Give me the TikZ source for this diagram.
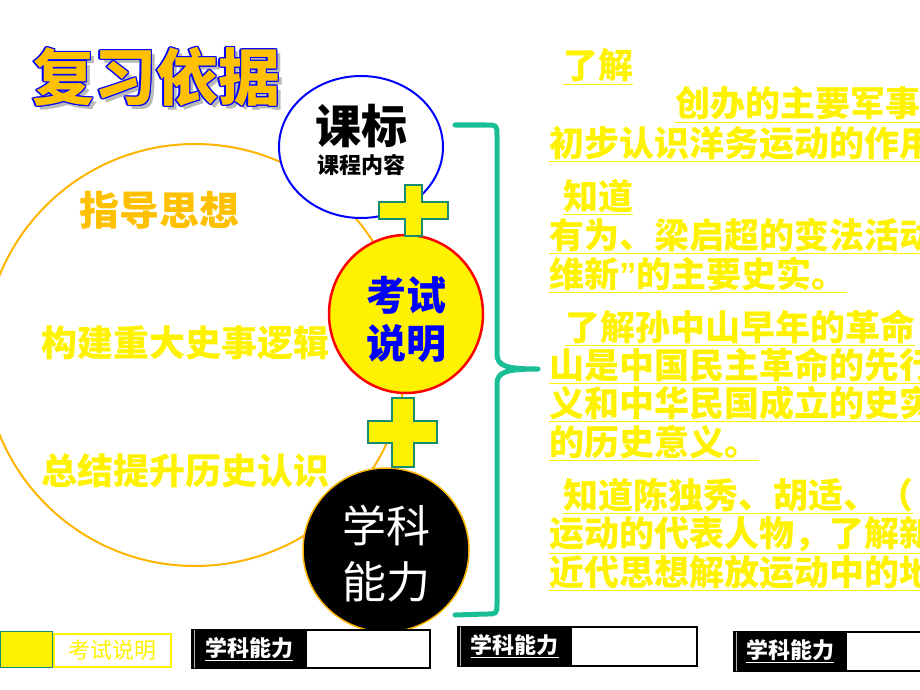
\documentclass[tikz,border=0pt]{standalone}
\usepackage{fontspec}
\newfontfamily\cjk{Noto Sans CJK SC}
\newfontfamily\latn{Liberation Sans}
\usetikzlibrary{shapes.geometric}
\definecolor{titleorange}{RGB}{255,192,0}
\definecolor{ringorange}{RGB}{255,180,0}
\definecolor{bracegreen}{RGB}{26,190,150}
\definecolor{crossedge}{RGB}{24,140,110}
\tikzset{
        titlefont/.style={font=\cjk\bfseries\fontsize{62}{62}\selectfont}, % big heading
        blob/.style={ellipse, inner sep=0pt, line width=2pt}, % the round shapes in the middle
        req/.style={anchor=base west, inner sep=0pt, text=yellow, font=\cjk\bfseries\fontsize{35}{38}\selectfont}, % lines on the right
        cross/.style={fill=yellow, draw=crossedge, line width=2pt, line join=miter},
        tabbox/.style={draw=black, line width=1.5pt, fill=white, inner sep=0pt, anchor=north west},
        tabhead/.style={fill=black, inner sep=0pt, anchor=west, text=white, font=\cjk\bfseries\fontsize{22}{24}\selectfont},
    }
\begin{document}
\begin{tikzpicture}[x=1pt, y=-1pt, font=\cjk]
    \useasboundingbox (0,0) rectangle (920,690);

    % heading: shadow, blue rim, orange face
    \node[titlefont, text=gray!55] (ttlshadow) at (160,81) {复习依据};
    \foreach \dx/\dy [count=\k] in {-1.3/0,1.3/0,0/-1.3,0/1.3,-1/-1,1/1,-1/1,1/-1}
      \node[titlefont, text=blue] (ttlrim\k) at (156+\dx,77+\dy) {复习依据};
    \node[titlefont, text=titleorange] (ttl) at (156,77) {复习依据};

    % big ring on the left
    \node[circle, draw=ringorange, line width=2pt, minimum size=422pt, inner sep=0pt] (ring) at (195,355) {};
    \node[text=titleorange, font=\cjk\bfseries\fontsize{40}{44}\selectfont] (zd) at (159,210) {指导思想};
    \node[text=yellow, font=\cjk\bfseries\fontsize{36}{40}\selectfont] (gj) at (185,343) {构建重大史事逻辑};
    \node[text=yellow, font=\cjk\bfseries\fontsize{36}{40}\selectfont] (zj) at (185,471) {总结提升历史认识};

    % the three sources
    \node[blob, draw=blue, fill=white, minimum width=164pt, minimum height=142pt] (kb) at (361,147) {};
    \node[font=\cjk\bfseries\fontsize{46}{48}\selectfont] (kbt) at (361,126) {课标};
    \node[font=\cjk\bfseries\fontsize{22}{24}\selectfont] (kbs) at (361,165) {课程内容};

    \node[blob, draw=red, fill=yellow, line width=2.5pt, minimum width=154pt, minimum height=158pt] (ks) at (406,314) {};
    \node[align=center, text=blue, font=\cjk\bfseries\fontsize{40}{48}\selectfont] (kst) at (406,319) {考试\\说明};

    \node[blob, draw=ringorange, fill=black, line width=1.5pt, minimum width=166pt, minimum height=164pt] (xk) at (386,550) {};
    \node[align=center, text=white, font=\cjk\fontsize{44}{56}\selectfont] (xkt) at (386,554) {学科\\能力};

    % plus signs
    \draw[cross] (379,202) -- (405,202) -- (405,185) -- (422,185) -- (422,202) -- (448,202) -- (448,219)
      -- (422,219) -- (422,236) -- (405,236) -- (405,219) -- (379,219) -- cycle;
    \draw[cross] (368,421) -- (392,421) -- (392,398) -- (414,398) -- (414,421) -- (437,421) -- (437,443)
      -- (414,443) -- (414,467) -- (392,467) -- (392,443) -- (368,443) -- cycle;

    % brace
    \coordinate (bt) at (455,125);
    \coordinate (bm) at (538,369);
    \coordinate (bb) at (455,615);
    \draw[bracegreen, line width=5pt, line cap=round, line join=round]
      (bt) -- (486,125) .. controls (497,125) .. (497,136) -- (497,354)
      .. controls (497,366) and (506,369) .. (bm)
      .. controls (506,369) and (497,372) .. (497,384) -- (497,603)
      .. controls (497,614) .. (486,614) -- (bb);

    % requirements on the right
    \node[req] (r1)  at (563,79)  {\underline{了解}};
    \node[req] (r2)  at (675,117) {\underline{创办的主要军事}};
    \node[req] (r3)  at (549,156) {\underline{初步认识洋务运动的作用}};
    \node[req] (r4)  at (563,209) {\underline{知道}};
    \node[req] (r5)  at (549,248) {\underline{有为、梁启超的变法活动}};
    \node[req] (r6)  at (549,287) {\underline{维新{\latn ”}的主要史实。}};
    \node[req] (r7)  at (565,340) {\underline{了解孙中山早年的革命}};
    \node[req] (r8)  at (549,378) {\underline{山是中国民主革命的先行}};
    \node[req] (r9)  at (549,416) {\underline{义和中华民国成立的史实}};
    \node[req] (r10) at (549,455) {\underline{的历史意义。}};
    \node[req] (r11) at (563,508) {\underline{知道陈独秀、胡适、（}};
    \node[req] (r12) at (549,546) {\underline{运动的代表人物，了解新}};
    \node[req] (r13) at (549,585) {\underline{近代思想解放运动中的地}};

    % tabs along the bottom
    \node[draw=crossedge, fill=yellow, line width=1pt, minimum width=52pt, minimum height=36pt, inner sep=0pt, anchor=north west] (lgsq) at (0,631) {};
    \node[draw=yellow, line width=2pt, minimum width=117pt, minimum height=33pt, inner sep=0pt, anchor=north west,
      text=yellow, font=\cjk\fontsize{22}{24}\selectfont] (lgtx) at (53,633) {考试说明};

    \node[tabbox, minimum width=238pt, minimum height=38pt] (tba) at (191,629) {};
    \node[tabhead, minimum width=116pt, minimum height=38pt] (tha) at (tba.west) {\underline{学科能力}};
    \node[tabbox, minimum width=239pt, minimum height=39pt] (tbb) at (457,626) {};
    \node[tabhead, minimum width=115pt, minimum height=39pt] (thb) at (tbb.west) {\underline{学科能力}};
    \node[tabbox, minimum width=200pt, minimum height=39pt] (tbc) at (733,631) {};
    \node[tabhead, minimum width=114pt, minimum height=39pt] (thc) at (tbc.west) {\underline{学科能力}};
    \draw[gray!60, line width=.8pt] ([xshift=3pt]tha.north west) -- ([xshift=3pt]tha.south west);
    \draw[gray!60, line width=.8pt] ([xshift=3pt]thb.north west) -- ([xshift=3pt]thb.south west);
    \draw[gray!60, line width=.8pt] ([xshift=3pt]thc.north west) -- ([xshift=3pt]thc.south west);
\end{tikzpicture}
\end{document}
